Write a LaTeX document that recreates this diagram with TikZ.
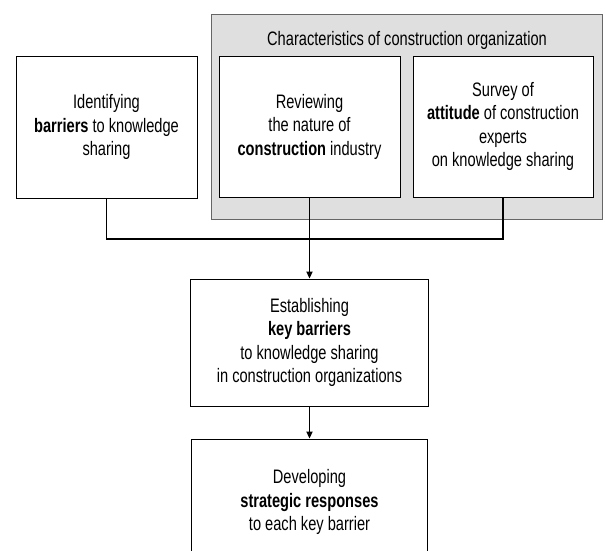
\documentclass[tikz,border=0pt]{standalone}
\usepackage{fontspec}
\setmainfont{Liberation Sans}[FakeStretch=0.75]
\usetikzlibrary{arrows.meta}

\begin{document}
\begin{tikzpicture}[x=1pt,y=-1pt,
  stage/.style={draw,line width=0.8pt,fill=white,align=center,inner sep=0pt,
    font=\fontsize{19.5}{23.5}\selectfont},
  link/.style={line width=1.6pt},
  flow/.style={line width=1.6pt,-{Triangle[length=7pt,width=6pt]}}]
  % Canvas
  \useasboundingbox (0,0) rectangle (605,551);
  \clip (0,0) rectangle (605,551);

  % Shaded group of organisation studies
  \node[draw=black!60,line width=1.2pt,fill=gray!25,anchor=north west,
    minimum width=391pt,minimum height=205pt] (group) at (211,14) {};
  \node[font=\fontsize{19.5}{23.5}\selectfont] (grouptitle) at (407,40)
    {Characteristics of construction organization};

  % Top row
  \node[stage,minimum width=181pt,minimum height=142pt] (barriers) at (106.5,127)
    {Identifying\\\textbf{barriers} to knowledge\\sharing};
  \node[stage,minimum width=181pt,minimum height=141pt] (nature) at (309.5,126.5)
    {Reviewing\\the nature of\\\textbf{construction} industry};
  \node[stage,minimum width=180pt,minimum height=141pt] (survey) at (503,126.5)
    {Survey of\\\textbf{attitude} of construction\\experts\\on knowledge sharing};

  % Lower stages
  \node[stage,minimum width=238pt,minimum height=127pt] (keybarriers) at (309.5,342.5)
    {Establishing\\\textbf{key barriers}\\to knowledge sharing\\in construction organizations};
  \node[stage,minimum width=236pt,minimum height=126pt] (responses) at (309.5,502)
    {Developing\\\textbf{strategic responses}\\to each key barrier};

  % Connectors
  \coordinate (join) at (309.5,239);
  \draw[link] (barriers.south) |- (join) -| (survey.south);
  \draw[flow] (nature.south) -- (keybarriers.north);
  \draw[flow] (keybarriers.south) -- (responses.north);
\end{tikzpicture}
\end{document}
